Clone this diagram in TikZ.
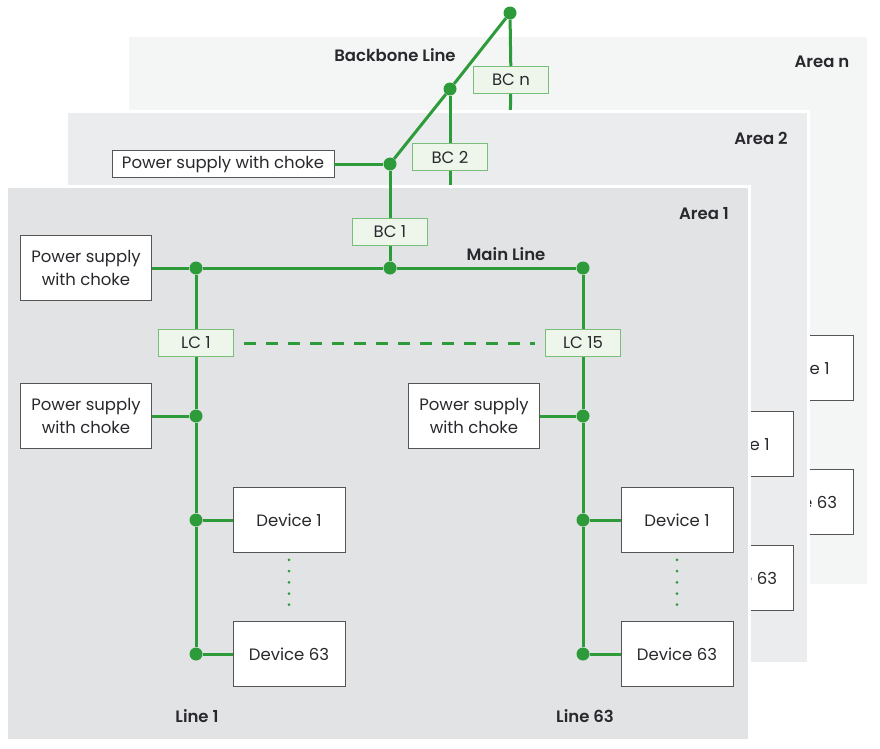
\documentclass[tikz,border=0pt]{standalone}
\usepackage{fontspec}
\setmainfont{Poppins}[BoldFont={Poppins SemiBold}]
\usepackage{xcolor}
\definecolor{busGreen}{RGB}{46, 155, 58}
\definecolor{cplFill}{RGB}{238, 246, 236}
\definecolor{cplEdge}{RGB}{120, 190, 120}
\definecolor{boxEdge}{RGB}{85, 85, 85}
\definecolor{inkDark}{RGB}{40, 40, 45}
\definecolor{areaOne}{RGB}{226, 227, 229}
\definecolor{areaTwo}{RGB}{235, 236, 238}
\definecolor{areaLast}{RGB}{244, 245, 245}
\usepackage{tikz}
\usetikzlibrary{
    arrows.meta,
    positioning,
    calc
}

\begin{document}
\begin{tikzpicture}[
    x=1pt, y=-1pt,
    areaPanel/.style={
        draw=white, line width=3pt, fill=#1
    },
    areaLabel/.style={
        font=\fontsize{16.5}{20}\selectfont\bfseries, text=inkDark
    },
    devBox/.style={
        rectangle, draw=boxEdge, line width=0.8pt,
        fill=white, text=inkDark,
        font=\fontsize{16.5}{23}\selectfont,
        align=center, inner sep=0pt,
        minimum width=112pt, minimum height=65pt
    },
    psBox/.style={
        devBox, minimum width=131pt
    },
    psLineBox/.style={
        devBox, minimum width=222pt, minimum height=27pt
    },
    cplBox/.style={
        rectangle, draw=cplEdge, line width=0.8pt,
        fill=cplFill, text=inkDark,
        font=\fontsize{16.5}{20}\selectfont, inner sep=0pt,
        minimum width=75pt, minimum height=27pt
    },
    bus/.style={
        draw=busGreen, line width=3pt
    },
    busDash/.style={
        draw=busGreen, line width=3pt, dash pattern=on 12pt off 10pt
    },
    busDots/.style={
        draw=busGreen, line width=3pt, line cap=round,
        dash pattern=on 0pt off 11.2pt, shorten <=7pt, shorten >=7pt
    },
    junction/.style={
        circle, fill=busGreen, inner sep=0pt, minimum size=13pt
    }
]

    % Canvas
    \path[fill=white] (0,0) rectangle (880,748);

    % Area n (back)
    \draw[areaPanel=areaLast] (127,35) rectangle (868,585);
    \node[areaLabel] (lblAreaN) at (822,62) {Area n};
    \node[devBox] (nDev1) at (797,368) {Device 1};
    \node[devBox] (nDev63) at (797,502) {Device 63};
    \node[junction] (jTop) at (510,13) {};
    \node[cplBox] (bcN) at (511,80) {BC n};
    \coordinate (bcNEnd) at (510,130);
    \draw[bus] (jTop) -- (bcN);
    \draw[bus] (bcN) -- (bcNEnd);
    \node[areaLabel] (lblBackbone) at (395,55) {Backbone Line};

    % Area 2 (middle)
    \draw[areaPanel=areaTwo] (66,111) rectangle (808,663);
    \node[areaLabel] (lblArea2) at (761,138) {Area 2};
    \node[devBox] (mDev1) at (737,444) {Device 1};
    \node[devBox] (mDev63) at (737,578) {Device 63};
    \node[junction] (jBC2) at (450,89) {};
    \node[cplBox] (bc2) at (450,157) {BC 2};
    \coordinate (bc2End) at (450,200);
    \draw[bus] (jBC2) -- (bc2);
    \draw[bus] (bc2) -- (bc2End);

    % Area 1 (front)
    \draw[areaPanel=areaOne] (6,186) rectangle (749,740);
    \node[areaLabel] (lblArea1) at (704,214) {Area 1};
    \node[areaLabel] (lblMain) at (506,254) {Main Line};
    \node[areaLabel] (lblLine1) at (197,716) {Line 1};
    \node[areaLabel] (lblLine63) at (585,716) {Line 63};

    \node[cplBox] (bc1) at (390,232) {BC 1};
    \node[psBox] (psMain) at (86,268) {Power supply\\with choke};
    \node[junction] (jL1) at (196,268) {};
    \node[junction] (jBC1) at (390,268) {};
    \node[junction] (jL63) at (583,268) {};

    % Line 1
    \node[cplBox] (lc1) at (196,343) {LC 1};
    \node[junction] (jPs1) at (196,416) {};
    \node[psBox] (ps1) at (86,416) {Power supply\\with choke};
    \node[junction] (jDevA1) at (196,520) {};
    \node[devBox] (devA1) at (289,520) {Device 1};
    \node[junction] (jDevA63) at (196,654) {};
    \node[devBox] (devA63) at (289,654) {Device 63};

    % Line 63
    \node[cplBox] (lc15) at (583,343) {LC 15};
    \node[junction] (jPs63) at (583,416) {};
    \node[psBox] (ps63) at (474,416) {Power supply\\with choke};
    \node[junction] (jDevB1) at (583,520) {};
    \node[devBox] (devB1) at (677,520) {Device 1};
    \node[junction] (jDevB63) at (583,654) {};
    \node[devBox] (devB63) at (677,654) {Device 63};

    % Main line and branches
    \draw[bus] (bc1) -- (jBC1);
    \draw[bus] (psMain) -- (jL1) -- (jBC1) -- (jL63);
    \draw[bus] (jL1) -- (lc1) -- (jPs1) -- (jDevA1) -- (jDevA63);
    \draw[bus] (jL63) -- (lc15) -- (jPs63) -- (jDevB1) -- (jDevB63);
    \draw[bus] (jPs1) -- (ps1);
    \draw[bus] (jDevA1) -- (devA1);
    \draw[bus] (jDevA63) -- (devA63);
    \draw[bus] (jPs63) -- (ps63);
    \draw[bus] (jDevB1) -- (devB1);
    \draw[bus] (jDevB63) -- (devB63);
    \draw[busDash] ([xshift=10pt]lc1.east) -- ([xshift=-10pt]lc15.west);
    \draw[busDots] (devA1.south) -- (devA63.north);
    \draw[busDots] (devB1.south) -- (devB63.north);

    % Backbone
    \node[junction] (jBC1Top) at (390,164) {};
    \node[psLineBox] (psBackbone) at (223,164) {Power supply with choke};
    \draw[bus] (jTop) -- (jBC2) -- (jBC1Top);
    \draw[bus] (psBackbone) -- (jBC1Top);
    \draw[bus] (jBC1Top) -- (bc1);

\end{tikzpicture}
\end{document}
